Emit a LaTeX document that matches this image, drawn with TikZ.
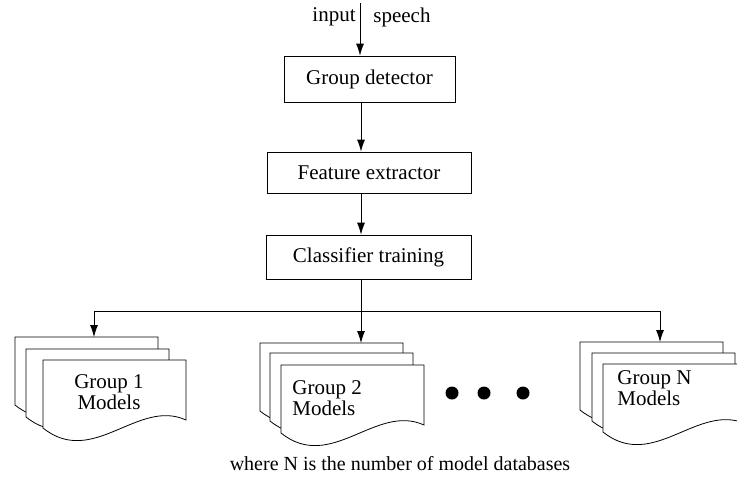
\documentclass[tikz,border=0pt]{standalone}
\usepackage{fontspec}
\setmainfont{Liberation Serif}
\usetikzlibrary{arrows.meta, positioning}

\tikzset{
  block/.style={draw, thin, inner sep=0pt, font=\fontsize{10.5}{12}\selectfont},
  txt/.style={inner sep=0pt, font=\fontsize{10.5}{10.5}\selectfont},
  link/.style={-{Latex[length=6pt,width=4pt]}, thin},
  sheet/.style={draw, thin, fill=white},
  dot/.style={circle, fill, inner sep=0pt, minimum size=6.5pt}
}

% one page of a model stack, top left corner at (#1,#2)
\newcommand{\docsheet}[2]{%
  \begin{scope}[shift={(#1,#2)}]
    \path[sheet] (0,0) -- (143,0) -- (143,60)
      .. controls (95,38) and (50,108) .. (0,68) -- cycle;
  \end{scope}}

\begin{document}
\begin{tikzpicture}[x=0.5pt, y=-0.5pt]
\useasboundingbox (0,0) rectangle (737,488);
\clip (0,0) rectangle (737,488);

% Processing chain
\node[block, minimum width=85.5pt, minimum height=23pt] (det) at (369.5,79) {Group detector};
\node[block, minimum width=102pt, minimum height=20.5pt] (feat) at (369,172.5) {Feature extractor};
\node[block, minimum width=102.5pt, minimum height=22pt] (cls) at (368.5,257) {Classifier training};

\coordinate (axis) at (361,0);
\coordinate (in) at (360,3);
\node[txt, anchor=east] (inp) at (356,17) {input};
\node[txt, anchor=west] (spch) at (373,17) {speech};

\draw[link] (in) -- (det.north -| in);
\draw[link] (det.south -| axis) -- (feat.north -| axis);
\draw[link] (feat.south -| axis) -- (cls.north -| axis);

% Distribution bus
\coordinate (b1) at (94,311);
\coordinate (b2) at (361,311);
\coordinate (bN) at (660,311);
\coordinate (s1) at (94,337);
\coordinate (s2) at (361,343);
\coordinate (sN) at (660,342);
\draw (cls.south -| axis) -- (b2);
\draw (b1) -- (bN);
\draw[link] (b1) -- (s1);
\draw[link] (b2) -- (s2);
\draw[link] (bN) -- (sN);

% Model stacks
\docsheet{15}{337}
\docsheet{26}{349}
\docsheet{43}{360}
\node[txt, align=center] (g1) at (109,392) {Group 1\\Models};

\docsheet{260}{343}
\docsheet{270}{353}
\docsheet{281}{365}
\node[txt, align=left, anchor=west] (g2) at (292,398) {Group 2\\Models};

\docsheet{580}{342}
\docsheet{592}{353}
\docsheet{603}{364}
\node[txt, align=left, anchor=west] (gN) at (617,388) {Group N\\Models};

% Ellipsis
\node[dot] (d1) at (452,393) {};
\node[dot] (d2) at (484,393) {};
\node[dot] (d3) at (523,393) {};

\node[txt, font=\fontsize{10}{12}\selectfont] (note) at (400,464) {where N is the number of model databases};
\end{tikzpicture}
\end{document}
